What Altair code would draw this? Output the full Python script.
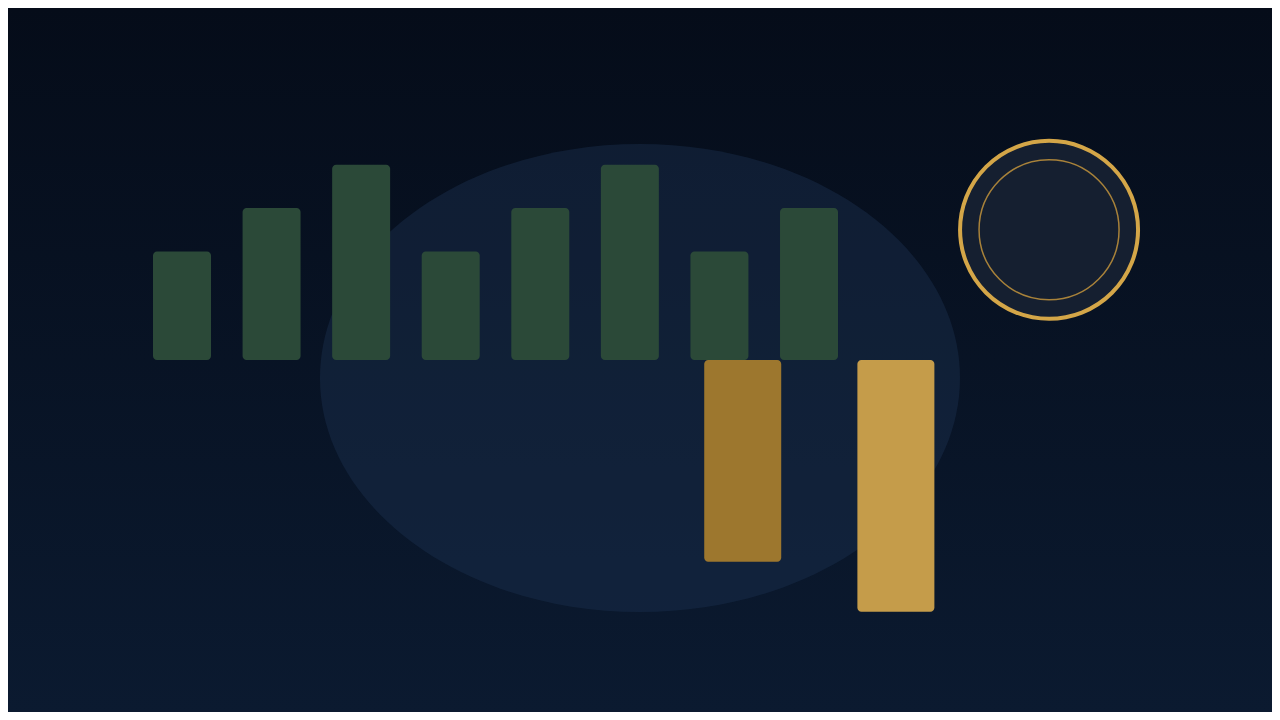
import altair as alt
import pandas as pd

# ---- data ----
green_pos = [1, 2, 3, 4, 5, 6, 7, 8]
green_vals = [2.5, 3.5, 4.5, 2.5, 3.5, 4.5, 2.5, 3.5]
gold_pos = [7.26, 8.97]
gold_vals = [-4.65, -5.8]
gold_colors = ["#9d772e", "#c59c4a"]
ellipse_pos = [6.113]
ellipse_val = [-0.415]
ring_pos = [10.68]
ring_val = [3.0]

W, H = 1264, 704
xs = alt.Scale(domain=[-0.9426, 13.169], nice=False, zero=False, padding=0)
ys = alt.Scale(domain=[-8.111, 8.111], nice=False, zero=False, padding=0)

green_df = pd.DataFrame({"x": green_pos, "v": green_vals})
gold_df = pd.DataFrame({"x": gold_pos, "v": gold_vals, "c": gold_colors})
ell_df = pd.DataFrame({"x": ellipse_pos, "v": ellipse_val})
ring_df = pd.DataFrame({"x": ring_pos, "v": ring_val})

bg = alt.Chart(pd.DataFrame({"a": [0]})).mark_rect(
    color=alt.Gradient(
        gradient="linear",
        stops=[alt.GradientStop(color="#050c19", offset=0),
               alt.GradientStop(color="#0b1a30", offset=1)],
        x1=0, x2=0, y1=0, y2=1,
    )
).encode(x=alt.value(0), x2=alt.value(W), y=alt.value(0), y2=alt.value(H))

k = 0.5523
b = 0.73125
kb = k * b
ell_path = (
    f"M -1 0 C -1 {-kb} {-k} {-b} 0 {-b} "
    f"C {k} {-b} 1 {-kb} 1 0 "
    f"C 1 {kb} {k} {b} 0 {b} "
    f"C {-k} {b} -1 {kb} -1 0 Z"
)
ellipse = alt.Chart(ell_df).mark_point(
    shape=ell_path, size=640 * 640, filled=True, fill="#1d3150", opacity=0.42, strokeWidth=0
).encode(x=alt.X("x:Q", scale=xs, axis=None), y=alt.Y("v:Q", scale=ys, axis=None))

green = alt.Chart(green_df).mark_bar(width=58, color="#2b4938", cornerRadius=4).encode(
    x=alt.X("x:Q", scale=xs, axis=None),
    y=alt.Y("v:Q", scale=ys, axis=None, stack=None),
)

gold = alt.Chart(gold_df).mark_bar(width=77, cornerRadius=4).encode(
    x=alt.X("x:Q", scale=xs, axis=None),
    y=alt.Y("v:Q", scale=ys, axis=None, stack=None),
    color=alt.Color("c:N", scale=None),
)

ring_fill = alt.Chart(ring_df).mark_point(
    shape="circle", size=178 * 178, filled=True, fill="#151f30", opacity=1, strokeWidth=0
).encode(x=alt.X("x:Q", scale=xs, axis=None), y=alt.Y("v:Q", scale=ys, axis=None))

ring_outer = alt.Chart(ring_df).mark_point(
    shape="circle", size=178 * 178, filled=False, stroke="#d4a648", strokeWidth=4, opacity=1
).encode(x=alt.X("x:Q", scale=xs, axis=None), y=alt.Y("v:Q", scale=ys, axis=None))

ring_inner = alt.Chart(ring_df).mark_point(
    shape="circle", size=140 * 140, filled=False, stroke="#a8823a", strokeWidth=1.5, opacity=1
).encode(x=alt.X("x:Q", scale=xs, axis=None), y=alt.Y("v:Q", scale=ys, axis=None))

chart = alt.layer(bg, ellipse, green, gold, ring_fill, ring_outer, ring_inner).properties(
    width=W, height=H, background="#050c19", padding=0,
    autosize=alt.AutoSizeParams(type="none"),
).configure_view(stroke=None)

chart.save("out.html", embed_options={"renderer": "svg", "actions": False})
